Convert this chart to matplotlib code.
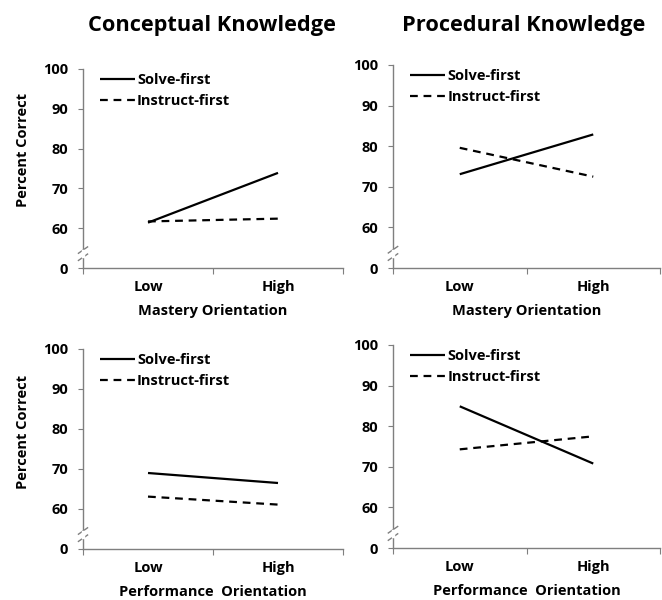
import matplotlib
matplotlib.use("Agg")
import matplotlib.pyplot as plt

plt.rcParams['font.family'] = ['Open Sans', 'DejaVu Sans']

categories = ["Low", "High"]
series_names = ["Solve-first", "Instruct-first"]
# values per panel: (solve-first, instruct-first)
concept_mastery = ([61.4, 73.9], [61.7, 62.4])
proced_mastery = ([73.1, 82.9], [79.6, 72.5])
concept_perf = ([69.0, 66.5], [63.1, 61.1])
proced_perf = ([84.9, 70.8], [74.3, 77.5])
ytick_vals = [0, 60, 70, 80, 90, 100]
ytick_labels = ["0", "60", "70", "80", "90", "100"]
titles = ["Conceptual Knowledge", "Procedural Knowledge"]
xlabels = ["Mastery Orientation", "Performance  Orientation"]

def ymap(v):
    # broken axis: 0 drawn one interval below 60
    return 50 if v == 0 else v

fig = plt.figure(figsize=(6.62, 6.0), dpi=100)
W, H = 662, 600
def rect(x0, x1, ytop, ybot):
    return [x0 / W, 1 - ybot / H, (x1 - x0) / W, (ybot - ytop) / H]

panels = [
    (rect(83, 343, 69, 268), concept_mastery, xlabels[0], 0.593),
    (rect(393, 660, 65, 268), proced_mastery, xlabels[0], None),
    (rect(83, 343, 349, 549), concept_perf, xlabels[1], 0.585),
    (rect(393, 660, 345, 548), proced_perf, xlabels[1], None),
]

axis_col = "#7f7f7f"
fs_tick = 10.5
fs_lab = 10.5
axes = []
for pos, (solve, instr), xlab, ylab in panels:
    ax = fig.add_axes(pos)
    axes.append(ax)
    xs = [0.5, 1.5]
    ax.plot(xs, solve, color="black", lw=1.6, solid_capstyle="butt", label=series_names[0])
    ax.plot(xs, instr, color="black", lw=1.6, linestyle=(0, (3.5, 2.6)), label=series_names[1])
    ax.set_xlim(0, 2)
    ax.set_ylim(50, 100)
    for s in ["top", "right"]:
        ax.spines[s].set_visible(False)
    for s in ["left", "bottom"]:
        ax.spines[s].set_color(axis_col)
        ax.spines[s].set_linewidth(1.0)
    ax.set_yticks([ymap(v) for v in ytick_vals])
    ax.set_yticklabels(ytick_labels, fontsize=fs_tick, fontweight="bold")
    ax.tick_params(axis="y", direction="out", length=3.6, color=axis_col, pad=7)
    ax.set_xticks([0, 1, 2])
    ax.set_xticklabels(["", "", ""])
    ax.tick_params(axis="x", which="major", direction="out", length=4, color=axis_col)
    ax.set_xticks(xs, minor=True)
    ax.set_xticklabels(categories, minor=True, fontsize=fs_tick, fontweight="bold")
    ax.tick_params(axis="x", which="minor", length=0, pad=8.5)
    ax.set_xlabel(xlab, fontsize=fs_lab, fontweight="bold", labelpad=7.5)
    if ylab is not None:
        ax.set_ylabel("Percent Correct", fontsize=fs_lab, fontweight="bold")
        ax.yaxis.set_label_coords(-0.205, ylab)
    # axis break marks
    for dy in (-0.9, 0.9):
        ax.plot([-0.035, 0.035], [53.6 + dy - 0.8, 53.6 + dy + 0.8], color=axis_col,
                lw=1.0, clip_on=False)
    ax.plot([0, 0], [52.9, 54.3], color="white", lw=2.5, clip_on=False, zorder=5)
    ax.legend(loc="upper left", bbox_to_anchor=(0.065, 0.98), frameon=False,
              handlelength=2.4, handletextpad=0.15, labelspacing=0.5,
              borderaxespad=0, borderpad=0, prop={"weight": "bold", "size": fs_lab})

fig.text(212 / W, 1 - 25 / H, titles[0], ha="center", va="center", fontsize=15.7, fontweight="bold")
fig.text(524 / W, 1 - 25 / H, titles[1], ha="center", va="center", fontsize=15.7, fontweight="bold")

fig.savefig("out.png", dpi=100)
